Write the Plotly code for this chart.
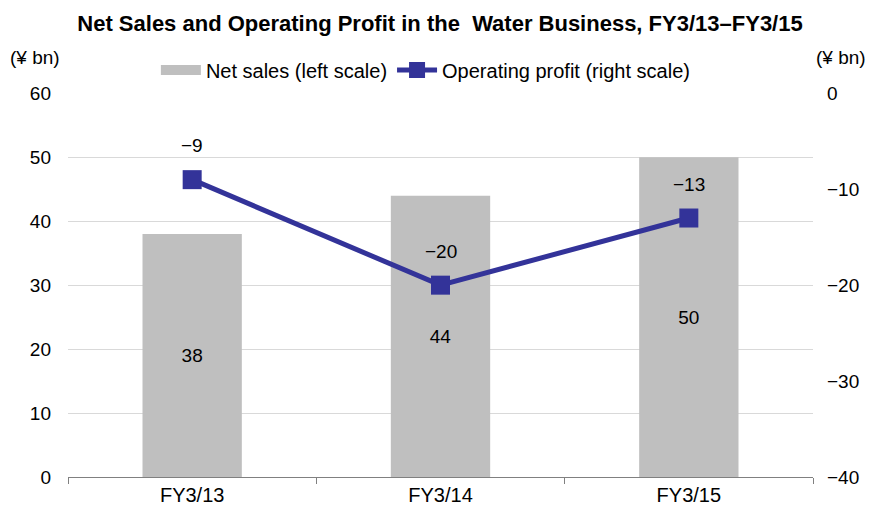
import plotly.graph_objects as go

categories = ["FY3/13", "FY3/14", "FY3/15"]
net_sales = [38, 44, 50]
operating_profit = [-9, -20, -13]

FONT = "Liberation Sans, Arial, sans-serif"
FS = 19

# The page body adds an 8px offset, so the figure is laid out at 866x501
W, H = 866, 501
L, R, T, B = 60, 61, 85, 32

fig = go.Figure()
fig.add_trace(go.Bar(
    x=categories, y=net_sales, name="Net sales (left scale)",
    marker=dict(color="#BFBFBF", line=dict(width=0)),
    width=0.4, showlegend=False,
    text=[str(v) for v in net_sales], textposition="inside",
    insidetextanchor="middle", textfont=dict(color="black", size=FS, family=FONT),
    yaxis="y",
))
# legend swatch for the bars (wide grey band as in the reference)
fig.add_trace(go.Scatter(
    x=[None], y=[None], name="Net sales (left scale)", mode="lines",
    line=dict(color="#BFBFBF", width=14), yaxis="y", legendrank=1,
))
fig.add_trace(go.Scatter(
    x=categories, y=operating_profit, name="Operating profit (right scale)",
    mode="lines+markers",
    line=dict(color="#333399", width=5),
    marker=dict(symbol="square", size=19, color="#333399"),
    yaxis="y2", legendrank=2,
))
for c, v in zip(categories, operating_profit):
    fig.add_annotation(x=c, y=v, xref="x", yref="y2", text=f"−{abs(v)}" if v < 0 else str(v),
                       showarrow=False, yshift=34, font=dict(size=FS, color="black", family=FONT))

ph = H - T - B
unit_y = (H - B - 49) / ph
fig.add_annotation(x=0, y=unit_y, xref="paper", yref="paper", xshift=-33, text="(¥ bn)",
                   xanchor="center", yanchor="middle",
                   showarrow=False, font=dict(size=FS, color="black", family=FONT))
fig.add_annotation(x=1, y=unit_y, xref="paper", yref="paper", xshift=2, text="(¥ bn)",
                   xanchor="left", yanchor="middle", borderpad=0,
                   showarrow=False, font=dict(size=FS, color="black", family=FONT))

fig.update_layout(
    width=W, height=H,
    margin=dict(l=L, r=R, t=T, b=B, autoexpand=False),
    paper_bgcolor="white", plot_bgcolor="white",
    font=dict(family=FONT, size=FS, color="black"),
    title=dict(text="<b>Net Sales and Operating Profit in the  Water Business, FY3/13–FY3/15</b>",
               x=432 / W, xanchor="center", y=1 - 15 / H, yanchor="middle",
               font=dict(size=22, family=FONT, color="black")),
    showlegend=True,
    legend=dict(orientation="h", x=416 / W, xanchor="center", y=1 - 62 / H, yanchor="middle",
                yref="container", itemwidth=40,
                font=dict(size=20, family=FONT), bgcolor="rgba(0,0,0,0)"),
    xaxis=dict(type="category", showline=True, linecolor="#808080", linewidth=1,
               ticks="outside", tickson="boundaries", tickcolor="#808080", ticklen=6,
               showgrid=False, tickfont=dict(size=20), automargin=False),
    yaxis=dict(range=[0, 60.05], tickvals=[0, 10, 20, 30, 40, 50, 60], showgrid=True,
               gridcolor="#D9D9D9", gridwidth=1, ticklabelstandoff=16,
               zeroline=False, showline=False, ticks="", tickfont=dict(size=FS), automargin=False),
    yaxis2=dict(range=[-40, 0.0333], overlaying="y", side="right", showgrid=False,
                zeroline=False, showline=False, ticks="", tickfont=dict(size=FS), automargin=False,
                tickvals=[0, -10, -20, -30, -40], ticktext=["0", "−10", "−20", "−30", "−40"],
                ticklabelstandoff=13),
)
fig.write_html("out.html")
